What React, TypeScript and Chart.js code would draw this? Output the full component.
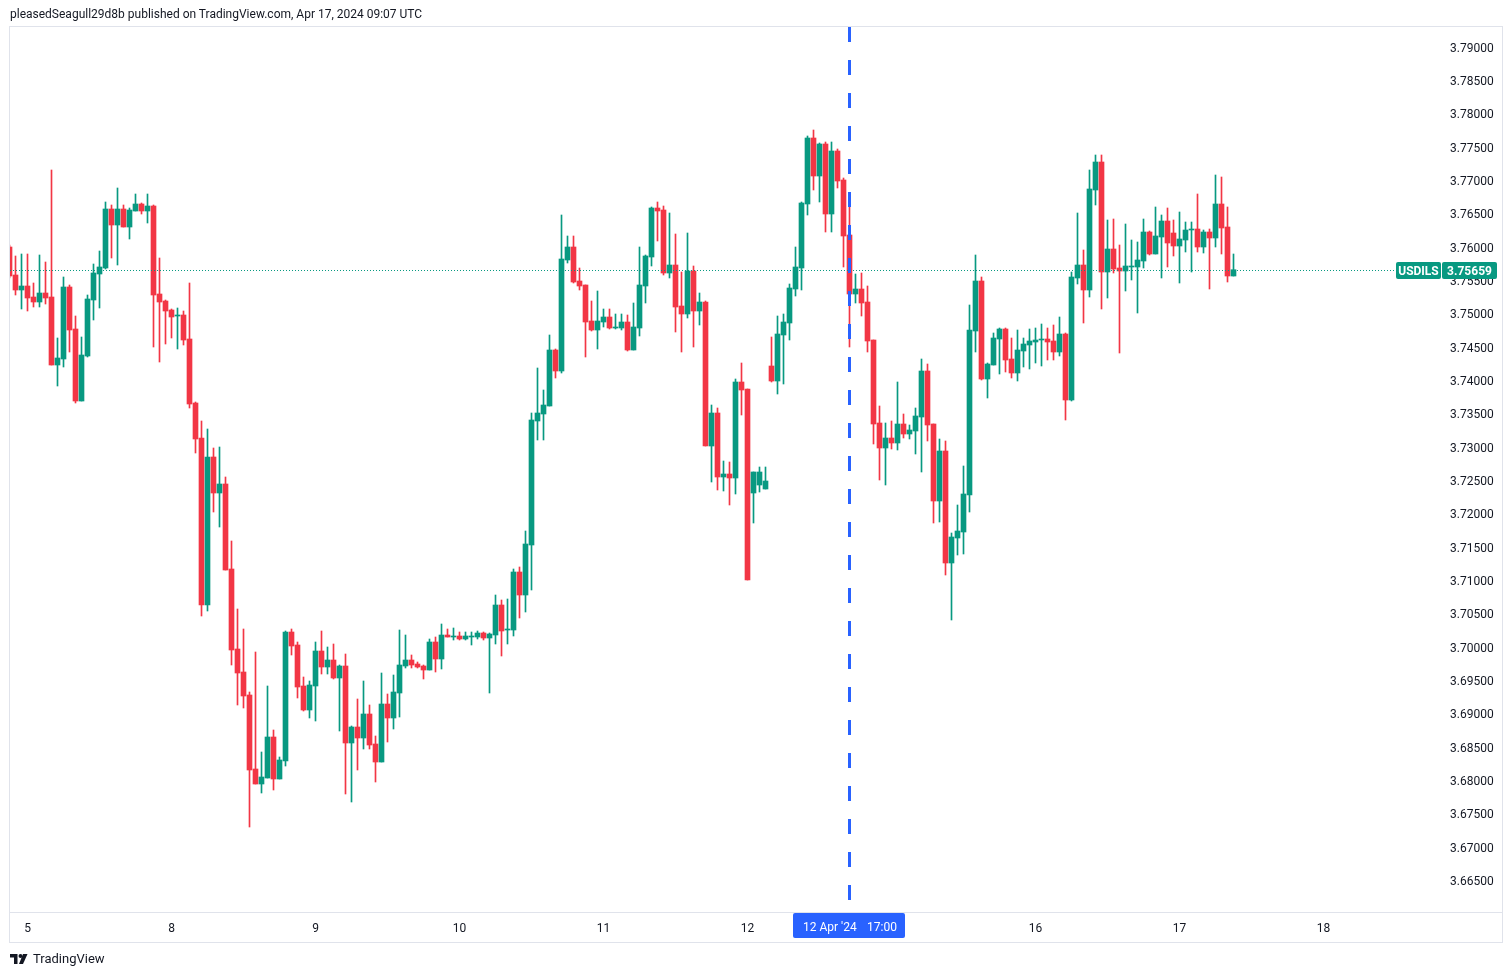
import React, { useEffect, useRef } from 'react';
import { Chart, registerables } from 'chart.js';

Chart.register(...registerables);

const opens = [
  3.76000, 3.75580, 3.75355, 3.75415, 3.75250, 3.75175, 3.75310, 3.75250, 3.74230, 3.74320,
  3.75400, 3.74770, 3.73690, 3.74365, 3.75205, 3.75595, 3.75685, 3.76570, 3.76330, 3.76570,
  3.76300, 3.76540, 3.76645, 3.76540, 3.76615, 3.75295, 3.75190, 3.75055, 3.74965, 3.74980,
  3.74620, 3.73660, 3.73135, 3.70630, 3.72850, 3.72310, 3.72445, 3.71170, 3.69970, 3.69625,
  3.69280, 3.68170, 3.67945, 3.68035, 3.68650, 3.68020, 3.68290, 3.70225, 3.70030, 3.69415,
  3.69055, 3.69415, 3.69940, 3.69700, 3.69805, 3.69535, 3.69715, 3.68560, 3.68800, 3.68635,
  3.68995, 3.68545, 3.68275, 3.69145, 3.68935, 3.69310, 3.69715, 3.69805, 3.69745, 3.69715,
  3.69655, 3.70075, 3.69820, 3.70180, 3.70150, 3.70165, 3.70120, 3.70150, 3.70150, 3.70210,
  3.70135, 3.70180, 3.70630, 3.70255, 3.70255, 3.71125, 3.70780, 3.71530, 3.73390, 3.73495,
  3.73615, 3.74455, 3.74140, 3.75805, 3.76000, 3.75490, 3.75430, 3.74890, 3.74755, 3.74875,
  3.74950, 3.74785, 3.74785, 3.74875, 3.74455, 3.74785, 3.75415, 3.75850, 3.76585, 3.76555,
  3.75610, 3.75730, 3.75115, 3.74995, 3.75640, 3.75040, 3.75175, 3.73015, 3.73510, 3.72550,
  3.72595, 3.72535, 3.73975, 3.73870, 3.72310, 3.72430, 3.72370, 3.74215, 3.73990, 3.74680,
  3.74860, 3.75370, 3.75685, 3.76645, 3.77635, 3.77065, 3.77545, 3.76495, 3.77440, 3.77005,
  3.76180, 3.75295, 3.75370, 3.75175, 3.74605, 3.73360, 3.72985, 3.73135, 3.73060, 3.73345,
  3.73195, 3.73240, 3.73450, 3.74140, 3.73345, 3.72190, 3.72940, 3.71260, 3.71635, 3.71725,
  3.72280, 3.74740, 3.75490, 3.74020, 3.74230, 3.74620, 3.74770, 3.74320, 3.74110, 3.74440,
  3.74530, 3.74575, 3.74605, 3.74620, 3.74590, 3.74425, 3.74695, 3.73705, 3.75535, 3.75730,
  3.75355, 3.76855, 3.77275, 3.75625, 3.75970, 3.75685, 3.75640, 3.75700, 3.75700, 3.75790,
  3.76225, 3.75895, 3.76150, 3.76390, 3.76210, 3.76015, 3.76105, 3.76255, 3.76270, 3.76000,
  3.76225, 3.76135, 3.76645, 3.76300, 3.75565,
];

const highs = [
  3.76030, 3.75865, 3.75895, 3.75895, 3.75460, 3.75880, 3.75775, 3.77155, 3.74635, 3.75550,
  3.75430, 3.74965, 3.74650, 3.75280, 3.75745, 3.75940, 3.76675, 3.76630, 3.76885, 3.76630,
  3.76585, 3.76795, 3.76660, 3.76795, 3.76630, 3.75835, 3.75205, 3.75070, 3.75085, 3.75040,
  3.75460, 3.73675, 3.73390, 3.73270, 3.72985, 3.73000, 3.72550, 3.71590, 3.70570, 3.70270,
  3.69325, 3.69925, 3.68425, 3.69415, 3.68755, 3.68350, 3.70240, 3.70270, 3.70075, 3.69550,
  3.69490, 3.70075, 3.70240, 3.70000, 3.70045, 3.69730, 3.69895, 3.68815, 3.69220, 3.69490,
  3.69130, 3.68665, 3.69610, 3.69295, 3.69580, 3.70255, 3.70180, 3.69880, 3.69775, 3.69730,
  3.70120, 3.70150, 3.70345, 3.70270, 3.70285, 3.70225, 3.70225, 3.70225, 3.70240, 3.70225,
  3.70210, 3.70780, 3.70705, 3.70720, 3.71170, 3.71200, 3.71740, 3.73510, 3.74185, 3.73855,
  3.74680, 3.74470, 3.76480, 3.76165, 3.76165, 3.75685, 3.75430, 3.75190, 3.75340, 3.75070,
  3.75070, 3.74995, 3.74995, 3.74980, 3.75160, 3.76000, 3.75880, 3.76600, 3.76675, 3.76615,
  3.76510, 3.76195, 3.75625, 3.76210, 3.75715, 3.75310, 3.75190, 3.73630, 3.73585, 3.72790,
  3.72775, 3.74020, 3.74260, 3.73870, 3.72625, 3.72700, 3.72700, 3.74650, 3.74965, 3.74995,
  3.75445, 3.76000, 3.76675, 3.77665, 3.77755, 3.77560, 3.77575, 3.77575, 3.77470, 3.77035,
  3.76630, 3.75595, 3.75610, 3.75415, 3.74605, 3.73615, 3.73360, 3.73390, 3.73975, 3.73495,
  3.73330, 3.73585, 3.74320, 3.74245, 3.73345, 3.73120, 3.73090, 3.71710, 3.72130, 3.72715,
  3.75130, 3.75880, 3.75550, 3.74260, 3.74710, 3.74785, 3.74785, 3.74635, 3.74755, 3.74635,
  3.74770, 3.74785, 3.74845, 3.74785, 3.74830, 3.74950, 3.74710, 3.75625, 3.76510, 3.75955,
  3.77155, 3.77380, 3.77380, 3.76405, 3.76420, 3.76030, 3.76345, 3.76105, 3.76075, 3.76420,
  3.76240, 3.76600, 3.76480, 3.76585, 3.76405, 3.76525, 3.76375, 3.76375, 3.76795, 3.76255,
  3.76270, 3.77080, 3.77050, 3.76600, 3.75895,
];

const lows = [
  3.75535, 3.75280, 3.75070, 3.75040, 3.75100, 3.75100, 3.75145, 3.74230, 3.73915, 3.74200,
  3.74425, 3.73660, 3.73690, 3.74350, 3.74905, 3.75085, 3.75670, 3.75835, 3.75730, 3.76300,
  3.76120, 3.76540, 3.76495, 3.76360, 3.74500, 3.74275, 3.74545, 3.74635, 3.74470, 3.74530,
  3.73585, 3.72910, 3.70465, 3.70540, 3.72025, 3.71800, 3.71155, 3.69730, 3.69130, 3.69085,
  3.67300, 3.67945, 3.67810, 3.68035, 3.67855, 3.68020, 3.68215, 3.69880, 3.69235, 3.69040,
  3.68935, 3.68890, 3.69595, 3.69595, 3.69520, 3.68740, 3.67795, 3.67675, 3.68155, 3.68470,
  3.68470, 3.67975, 3.68275, 3.68575, 3.68770, 3.68950, 3.69685, 3.69685, 3.69685, 3.69520,
  3.69655, 3.69625, 3.69670, 3.70150, 3.70105, 3.70105, 3.70105, 3.70030, 3.70120, 3.70105,
  3.69310, 3.70045, 3.69865, 3.70045, 3.70165, 3.70435, 3.70525, 3.70855, 3.73105, 3.73105,
  3.73615, 3.74035, 3.74110, 3.75760, 3.75460, 3.75355, 3.74350, 3.74740, 3.74470, 3.74800,
  3.74770, 3.74770, 3.74755, 3.74440, 3.74455, 3.74665, 3.75160, 3.75715, 3.76090, 3.75580,
  3.75535, 3.74725, 3.74425, 3.74935, 3.74500, 3.74830, 3.73015, 3.72475, 3.72355, 3.72340,
  3.72130, 3.72295, 3.73480, 3.71005, 3.71860, 3.72325, 3.72370, 3.73975, 3.73795, 3.73945,
  3.74605, 3.75265, 3.75355, 3.76480, 3.76855, 3.76675, 3.76225, 3.76225, 3.76885, 3.75700,
  3.74500, 3.75160, 3.74965, 3.74425, 3.73045, 3.72505, 3.72430, 3.72970, 3.72955, 3.73135,
  3.73120, 3.72895, 3.72625, 3.73090, 3.71860, 3.71875, 3.71080, 3.70405, 3.71380, 3.71395,
  3.72025, 3.74425, 3.74005, 3.73735, 3.74230, 3.74095, 3.74125, 3.74035, 3.73990, 3.74200,
  3.74170, 3.74260, 3.74215, 3.74305, 3.74305, 3.74365, 3.73405, 3.73690, 3.75445, 3.74860,
  3.75250, 3.76630, 3.75070, 3.75235, 3.75610, 3.74410, 3.75340, 3.75505, 3.75010, 3.75685,
  3.75880, 3.75895, 3.75535, 3.75700, 3.75865, 3.75460, 3.75925, 3.75625, 3.75925, 3.75910,
  3.75370, 3.76000, 3.75895, 3.75475, 3.75565,
];

const closes = [
  3.75565, 3.75355, 3.75415, 3.75235, 3.75175, 3.75310, 3.75235, 3.74230, 3.74335, 3.75400,
  3.74755, 3.73690, 3.74380, 3.75220, 3.75610, 3.75700, 3.76570, 3.76330, 3.76570, 3.76300,
  3.76555, 3.76645, 3.76540, 3.76615, 3.75280, 3.75175, 3.75040, 3.74950, 3.74980, 3.74605,
  3.73645, 3.73120, 3.70630, 3.72850, 3.72310, 3.72445, 3.71155, 3.69955, 3.69610, 3.69265,
  3.68155, 3.67945, 3.68050, 3.68650, 3.68020, 3.68305, 3.70225, 3.70015, 3.69400, 3.69055,
  3.69430, 3.69940, 3.69700, 3.69805, 3.69535, 3.69715, 3.68560, 3.68800, 3.68635, 3.68995,
  3.68530, 3.68275, 3.69145, 3.68935, 3.69325, 3.69730, 3.69805, 3.69730, 3.69700, 3.69655,
  3.70075, 3.69820, 3.70180, 3.70150, 3.70165, 3.70120, 3.70165, 3.70165, 3.70210, 3.70135,
  3.70195, 3.70630, 3.70240, 3.70270, 3.71125, 3.70780, 3.71545, 3.73405, 3.73510, 3.73630,
  3.74455, 3.74140, 3.75820, 3.76000, 3.75475, 3.75415, 3.74875, 3.74755, 3.74890, 3.74950,
  3.74785, 3.74800, 3.74875, 3.74455, 3.74800, 3.75430, 3.75865, 3.76585, 3.76540, 3.75610,
  3.75730, 3.75100, 3.74995, 3.75640, 3.75040, 3.75175, 3.73015, 3.73510, 3.72550, 3.72595,
  3.72535, 3.73975, 3.73855, 3.71005, 3.72625, 3.72625, 3.72490, 3.73990, 3.74695, 3.74875,
  3.75385, 3.75700, 3.76660, 3.77635, 3.77065, 3.77545, 3.76495, 3.77440, 3.76990, 3.76165,
  3.75295, 3.75370, 3.75160, 3.74590, 3.73345, 3.72985, 3.73135, 3.73060, 3.73345, 3.73195,
  3.73255, 3.73465, 3.74140, 3.73330, 3.72190, 3.72940, 3.71260, 3.71650, 3.71740, 3.72295,
  3.74755, 3.75490, 3.74020, 3.74245, 3.74635, 3.74770, 3.74305, 3.74110, 3.74455, 3.74545,
  3.74590, 3.74605, 3.74620, 3.74575, 3.74425, 3.74695, 3.73705, 3.75550, 3.75730, 3.75355,
  3.76870, 3.77275, 3.75625, 3.75970, 3.75670, 3.75640, 3.75715, 3.75715, 3.75805, 3.76225,
  3.75895, 3.76165, 3.76390, 3.76060, 3.76015, 3.76120, 3.76255, 3.76270, 3.76000, 3.76225,
  3.76135, 3.76645, 3.76285, 3.75565, 3.75659,
];

// x-axis day labels (candle index where each day starts, hourly candles)
const dayTickIndex = [3, 27, 51, 75, 99, 123, 147, 171, 195, 219];
const dayTickLabels = ['5', '8', '9', '10', '11', '12', '15', '16', '17', '18'];

const priceTicks = [
  3.665, 3.67, 3.675, 3.68, 3.685, 3.69, 3.695, 3.70, 3.705, 3.71, 3.715, 3.72, 3.725,
  3.73, 3.735, 3.74, 3.745, 3.75, 3.755, 3.76, 3.765, 3.77, 3.775, 3.78, 3.785, 3.79,
];

const symbol = 'USDILS';
const lastPrice = 3.75659;
const crosshairIndex = 140;
const crosshairDate = "12 Apr '24";
const crosshairTime = '17:00';
const headerText = 'pleasedSeagull29d8b published on TradingView.com, Apr 17, 2024 09:07 UTC';

const UP = '#089981';
const DOWN = '#F23645';
const TEXT = '#131722';
const FRAME = '#E0E3EB';
const FONT = 'Roboto, "Noto Sans", sans-serif';

const overlayPlugin = {
  id: 'tvOverlay',
  afterDatasetsDraw(chart: any) {
    const { ctx, chartArea, scales } = chart;
    const x = Math.round(scales.x.getPixelForValue(crosshairIndex) - 0.5) + 0.5;
    ctx.save();
    const py = Math.round(scales.y.getPixelForValue(lastPrice)) + 0.5;
    ctx.strokeStyle = UP;
    ctx.lineWidth = 1;
    ctx.setLineDash([1, 2]);
    ctx.beginPath();
    ctx.moveTo(chartArea.left, py);
    ctx.lineTo(chartArea.right - 45, py);
    ctx.stroke();
    ctx.strokeStyle = '#2962FF';
    ctx.lineWidth = 3;
    ctx.setLineDash([15, 18]);
    ctx.beginPath();
    ctx.moveTo(x, chartArea.top);
    ctx.lineTo(x, chartArea.bottom);
    ctx.stroke();
    ctx.restore();
  },
  afterDraw(chart: any) {
    const { ctx, chartArea, scales, width } = chart;
    ctx.save();
    ctx.strokeStyle = FRAME;
    ctx.lineWidth = 1;
    ctx.setLineDash([]);
    ctx.strokeRect(chartArea.left - 0.5, chartArea.top - 0.5, width - 10 - chartArea.left + 1, chartArea.bottom + 30 - chartArea.top + 1);
    ctx.beginPath();
    ctx.moveTo(chartArea.left, chartArea.bottom + 0.5);
    ctx.lineTo(width - 10, chartArea.bottom + 0.5);
    ctx.stroke();

    const py = scales.y.getPixelForValue(lastPrice);
    const top = Math.round(py) - 8;
    ctx.fillStyle = UP;
    ctx.beginPath();
    ctx.roundRect(chartArea.right - 45, top, 45, 17, 2);
    ctx.fill();
    ctx.beginPath();
    ctx.roundRect(chartArea.right + 1, top, 55, 17, 2);
    ctx.fill();
    ctx.fillStyle = '#FFFFFF';
    ctx.font = `bold 12px ${FONT}`;
    ctx.textBaseline = 'middle';
    ctx.textAlign = 'center';
    ctx.fillText(symbol, chartArea.right - 22.5, top + 9.5);
    ctx.fillText(lastPrice.toFixed(5), chartArea.right + 28.5, top + 9.5);

    const cx = scales.x.getPixelForValue(crosshairIndex);
    ctx.fillStyle = '#2962FF';
    ctx.beginPath();
    ctx.roundRect(cx - 56.5, chartArea.bottom + 1, 112, 25, 2);
    ctx.fill();
    ctx.fillStyle = '#FFFFFF';
    ctx.font = `12px ${FONT}`;
    ctx.textAlign = 'left';
    ctx.fillText(crosshairDate, cx - 46.5, chartArea.bottom + 15.5);
    ctx.fillText(crosshairTime, cx + 17.5, chartArea.bottom + 15.5);
    ctx.restore();
  },
};

export default function App() {
  const ref = useRef<HTMLCanvasElement | null>(null);

  useEffect(() => {
    if (!ref.current) return;
    const colors = closes.map((c, i) => (c >= opens[i] ? UP : DOWN));
    const chart = new Chart(ref.current, {
      type: 'bar',
      data: {
        datasets: [
          {
            label: 'wicks',
            data: opens.map((_, i) => ({ x: i, y: [lows[i], highs[i]] })) as any,
            backgroundColor: colors,
            borderWidth: 0,
            grouped: false,
            barPercentage: 1,
            categoryPercentage: 1,
            maxBarThickness: 1,
            minBarLength: 1,
            clip: 0,
            order: 2,
          } as any,
          {
            label: 'bodies',
            data: opens.map((o, i) => ({ x: i, y: [o, closes[i]] })) as any,
            backgroundColor: colors,
            borderWidth: 0,
            grouped: false,
            barPercentage: 1,
            categoryPercentage: 1,
            maxBarThickness: 5,
            minBarLength: 1,
            clip: 0,
            order: 1,
          } as any,
        ],
      },
      options: {
        responsive: false,
        animation: false,
        events: [],
        layout: { padding: { left: 10, top: 27, right: 10, bottom: 35 } },
        plugins: { legend: { display: false }, tooltip: { enabled: false } },
        scales: {
          x: {
            type: 'linear',
            offset: false,
            min: 1 / 12,
            max: 1 / 12 + 238.5,
            grid: { display: false, drawTicks: false },
            border: { display: false },
            afterBuildTicks: (s: any) => {
              s.ticks = dayTickIndex.map((v) => ({ value: v }));
            },
            afterFit: (s: any) => {
              s.height = 30;
            },
            ticks: {
              autoSkip: false,
              maxRotation: 0,
              padding: 10,
              color: TEXT,
              font: { family: FONT, size: 12 },
              callback: (v: any) => {
                const k = dayTickIndex.indexOf(Number(v));
                return k >= 0 ? dayTickLabels[k] : '';
              },
            },
          },
          y: {
            type: 'linear',
            position: 'right',
            min: 3.66025,
            max: 3.793,
            beginAtZero: false,
            grid: { display: false, drawTicks: false },
            border: { display: false },
            afterBuildTicks: (s: any) => {
              s.ticks = priceTicks.map((v) => ({ value: v }));
            },
            afterFit: (s: any) => {
              s.width = 61;
            },
            ticks: {
              padding: 9,
              labelOffset: 1.5,
              color: TEXT,
              font: { family: FONT, size: 12 },
              callback: (v: any) => Number(v).toFixed(5),
            },
          },
        },
      } as any,
      plugins: [overlayPlugin],
    });
    return () => chart.destroy();
  }, []);

  return (
    <div style={{ position: 'fixed', left: 0, top: 0, width: 1512, height: 977, background: '#FFFFFF', overflow: 'hidden' }}>
      <canvas ref={ref} width={1512} height={977} style={{ position: 'absolute', left: 0, top: 0, width: 1512, height: 977 }} />
      <div style={{ position: 'absolute', left: 10, top: 6, font: `12px ${FONT}`, color: TEXT, whiteSpace: 'nowrap', lineHeight: '16px' }}>
        {headerText}
      </div>
      <div style={{ position: 'absolute', left: 10, top: 950, display: 'flex', alignItems: 'center', gap: 5, font: `13px ${FONT}`, color: TEXT, lineHeight: '18px' }}>
        <svg width="18" height="12" viewBox="0 0 18 12">
          <path d="M0 1h7.5v10H4V4.5H0z" fill={TEXT} />
          <circle cx="10.5" cy="3" r="2" fill={TEXT} />
          <path d="M13 1h4.5L13 11H9z" fill={TEXT} />
        </svg>
        <span>TradingView</span>
      </div>
    </div>
  );
}
